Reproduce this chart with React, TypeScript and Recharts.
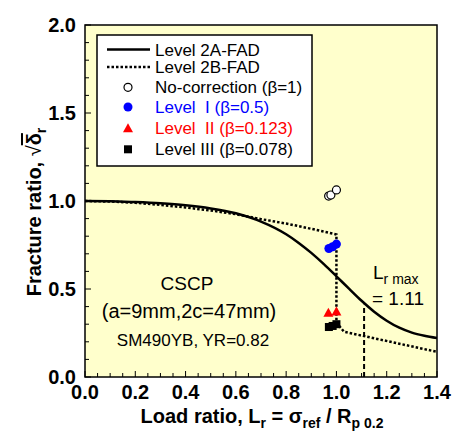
import React from 'react';
import {
  ComposedChart,
  Line,
  Scatter,
  XAxis,
  YAxis,
  CartesianGrid,
} from 'recharts';

// ============================================
// DATA
// ============================================

// Level 2A-FAD (solid curve)
const FAD_2A = [
  { x: 0.0, y: 1.0 },
  { x: 0.1, y: 0.999 },
  { x: 0.2, y: 0.994 },
  { x: 0.3, y: 0.987 },
  { x: 0.4, y: 0.976 },
  { x: 0.5, y: 0.958 },
  { x: 0.6, y: 0.93 },
  { x: 0.7, y: 0.883 },
  { x: 0.8, y: 0.811 },
  { x: 0.85, y: 0.762 },
  { x: 0.9, y: 0.705 },
  { x: 0.95, y: 0.641 },
  { x: 1.0, y: 0.572 },
  { x: 1.05, y: 0.502 },
  { x: 1.1, y: 0.433 },
  { x: 1.15, y: 0.371 },
  { x: 1.2, y: 0.32 },
  { x: 1.25, y: 0.28 },
  { x: 1.3, y: 0.252 },
  { x: 1.35, y: 0.234 },
  { x: 1.4, y: 0.221 },
];

// Level 2B-FAD (dotted curve)
const FAD_2B = [
  { x: 0.0, y: 1.0 },
  { x: 0.1, y: 0.997 },
  { x: 0.2, y: 0.99 },
  { x: 0.3, y: 0.978 },
  { x: 0.4, y: 0.963 },
  { x: 0.5, y: 0.946 },
  { x: 0.6, y: 0.925 },
  { x: 0.7, y: 0.897 },
  { x: 0.8, y: 0.872 },
  { x: 0.9, y: 0.842 },
  { x: 1.0, y: 0.81 },
  { x: 1.0, y: 0.31 },
  { x: 1.03, y: 0.257 },
  { x: 1.4, y: 0.143 },
];

// Lr max cut-off
const LR_MAX = [
  { x: 1.11, y: 0 },
  { x: 1.11, y: 0.41 },
];

const NO_CORRECTION = [
  { x: 0.969, y: 1.028 },
  { x: 0.978, y: 1.034 },
  { x: 1.0, y: 1.063 },
];
const LEVEL_1 = [
  { x: 0.97, y: 0.73 },
  { x: 0.985, y: 0.74 },
  { x: 1.0, y: 0.755 },
];
const LEVEL_2 = [
  { x: 0.968, y: 0.365 },
  { x: 1.0, y: 0.372 },
];
const LEVEL_3 = [
  { x: 0.97, y: 0.284 },
  { x: 0.985, y: 0.29 },
  { x: 1.0, y: 0.3 },
];

const X_MAJOR = [0, 0.2, 0.4, 0.6, 0.8, 1.0, 1.2, 1.4];
const X_TICKS = [
  0, 0.05, 0.1, 0.15, 0.2, 0.25, 0.3, 0.35, 0.4, 0.45, 0.5, 0.55, 0.6, 0.65,
  0.7, 0.75, 0.8, 0.85, 0.9, 0.95, 1.0, 1.05, 1.1, 1.15, 1.2, 1.25, 1.3, 1.35,
  1.4,
];
const Y_MAJOR = [0, 0.5, 1.0, 1.5, 2.0];
const Y_TICKS = [
  0, 0.1, 0.2, 0.3, 0.4, 0.5, 0.6, 0.7, 0.8, 0.9, 1.0, 1.1, 1.2, 1.3, 1.4, 1.5,
  1.6, 1.7, 1.8, 1.9, 2.0,
];

// ============================================
// CONSTANTS
// ============================================

const FONT = '"Liberation Sans", Arial, Helvetica, sans-serif';
const BG = '#FFFFCC';
const W = 454;
const H = 437;
const M = { top: 25, right: 17, left: 0, bottom: 0 };
const Y_AXIS_W = 85;
const X_AXIS_H = 60;
const DOTS = '2.5 2';

const isMajor = (list: number[], v: number) => list.some((m) => Math.abs(m - v) < 1e-6);

// ============================================
// HELPERS
// ============================================

function XTick({ x, y, payload }: any) {
  const v = payload.value as number;
  const major = isMajor(X_MAJOR, v);
  return (
    <g>
      <line x1={x} x2={x} y1={y} y2={y - (major ? 6 : 4)} stroke="#000" strokeWidth={1} />
      {major && (
        <text x={x} y={y + 22} textAnchor="middle" fontSize={20} fontWeight="bold" fontFamily={FONT} fill="#000">
          {v.toFixed(1)}
        </text>
      )}
    </g>
  );
}

function YTick({ x, y, payload }: any) {
  const v = payload.value as number;
  const major = isMajor(Y_MAJOR, v);
  return (
    <g>
      <line x1={x} x2={x + (major ? 6 : 4)} y1={y} y2={y} stroke="#000" strokeWidth={1} />
      {major && (
        <text x={x - 9} y={y + 7} textAnchor="end" fontSize={20} fontWeight="bold" fontFamily={FONT} fill="#000">
          {v.toFixed(1)}
        </text>
      )}
    </g>
  );
}

const OpenCircle = (p: any) => <circle cx={p.cx} cy={p.cy} r={4} fill="#fff" stroke="#000" strokeWidth={1.2} />;
const BlueDot = (p: any) => <circle cx={p.cx} cy={p.cy} r={4.5} fill="#0000FF" />;
const RedTri = (p: any) => (
  <polygon points={`${p.cx},${p.cy - 5} ${p.cx - 5},${p.cy + 4} ${p.cx + 5},${p.cy + 4}`} fill="#FF0000" />
);
const BlackSq = (p: any) => <rect x={p.cx - 4} y={p.cy - 4} width={8} height={8} fill="#000" />;

function LegendBox() {
  const tx = 155;
  const mx = 128;
  const rows = [49.5, 67, 87.3, 107, 128.3, 149.3];
  const t = (i: number, label: string, color = '#000') => (
    <text x={tx} y={rows[i] + 6} fontSize={17} fontFamily={FONT} fill={color} style={{ whiteSpace: 'pre' }}>
      {label}
    </text>
  );
  return (
    <g>
      <rect x={97} y={35} width={215} height={131} fill="#fff" stroke="#000" strokeWidth={1.5} />
      <line x1={107} x2={150} y1={rows[0]} y2={rows[0]} stroke="#000" strokeWidth={2.5} />
      {t(0, 'Level 2A-FAD')}
      <line x1={107} x2={150} y1={rows[1]} y2={rows[1]} stroke="#000" strokeWidth={2.5} strokeDasharray={DOTS} />
      {t(1, 'Level 2B-FAD')}
      <OpenCircle cx={mx} cy={rows[2]} />
      {t(2, 'No-correction (β=1)')}
      <BlueDot cx={mx} cy={rows[3]} />
      {t(3, 'Level  I (β=0.5)', '#0000FF')}
      <RedTri cx={mx} cy={rows[4]} />
      {t(4, 'Level  II (β=0.123)', '#FF0000')}
      <BlackSq cx={mx} cy={rows[5]} />
      {t(5, 'Level III (β=0.078)')}
    </g>
  );
}

// ============================================
// COMPONENT
// ============================================

export default function App() {
  const plotL = M.left + Y_AXIS_W;
  const plotT = M.top;
  const plotR = W - M.right;
  const plotB = H - M.bottom - X_AXIS_H;

  return (
    <div style={{ position: 'absolute', left: 0, top: 0, width: W, height: H, background: '#fff' }}>
      <ComposedChart width={W} height={H} margin={M}>
        <CartesianGrid fill={BG} horizontal={false} vertical={false} />
        <XAxis
          dataKey="x"
          type="number"
          domain={[0, 1.4]}
          ticks={X_TICKS}
          interval={0}
          height={X_AXIS_H}
          tickSize={0}
          tickMargin={0}
          tickLine={false}
          axisLine={false}
          tick={<XTick />}
          allowDataOverflow
        />
        <YAxis
          dataKey="y"
          type="number"
          domain={[0, 2]}
          ticks={Y_TICKS}
          interval={0}
          width={Y_AXIS_W}
          tickSize={0}
          tickMargin={0}
          tickLine={false}
          axisLine={false}
          tick={<YTick />}
          allowDataOverflow
        />
        <Line data={FAD_2A} dataKey="y" type="monotone" stroke="#000" strokeWidth={2.5} dot={false} isAnimationActive={false} />
        <Line data={FAD_2B} dataKey="y" type="linear" stroke="#000" strokeWidth={2.5} strokeDasharray={DOTS} dot={false} isAnimationActive={false} />
        <Line data={LR_MAX} dataKey="y" type="linear" stroke="#000" strokeWidth={2} strokeDasharray="5 3" dot={false} isAnimationActive={false} />
        <Scatter data={NO_CORRECTION} shape={OpenCircle} isAnimationActive={false} />
        <Scatter data={LEVEL_1} shape={BlueDot} isAnimationActive={false} />
        <Scatter data={LEVEL_2} shape={RedTri} isAnimationActive={false} />
        <Scatter data={LEVEL_3} shape={BlackSq} isAnimationActive={false} />
      </ComposedChart>

      {/* Frame, legend and annotations */}
      <svg width={W} height={H} style={{ position: 'absolute', left: 0, top: 0, pointerEvents: 'none' }}>
        <rect x={plotL} y={plotT} width={plotR - plotL} height={plotB - plotT} fill="none" stroke="#000" strokeWidth={1.5} />
        <LegendBox />

        <text x={187} y={290} textAnchor="middle" fontSize={19} fontFamily={FONT} fill="#000">CSCP</text>
        <text x={189} y={318} textAnchor="middle" fontSize={20} fontFamily={FONT} fill="#000">(a=9mm,2c=47mm)</text>
        <text x={193} y={346} textAnchor="middle" fontSize={17} fontFamily={FONT} fill="#000">SM490YB, YR=0.82</text>

        <text x={373} y={279} fontSize={19} fontFamily={FONT} fill="#000">
          L<tspan dy={5} fontSize={14}>r max</tspan>
        </text>
        <text x={372} y={305} fontSize={19} fontFamily={FONT} fill="#000">= 1.11</text>

        <text x={262} y={423} textAnchor="middle" fontSize={20} fontWeight="bold" fontFamily={FONT} fill="#000">
          Load ratio, L<tspan dy={5} fontSize={14}>r</tspan>
          <tspan dy={-5}> = σ</tspan>
          <tspan dy={5} fontSize={14}>ref</tspan>
          <tspan dy={-5}> / R</tspan>
          <tspan dy={5} fontSize={14}>p 0.2</tspan>
        </text>

        <text transform="translate(41,212) rotate(-90)" textAnchor="middle" fontSize={20} fontWeight="bold" fontFamily={FONT} fill="#000">
          Fracture ratio, <tspan fontWeight="normal">√</tspan>
          <tspan style={{ textDecoration: 'overline' }}>δ</tspan>
          <tspan dy={5} fontSize={14}>r</tspan>
        </text>
      </svg>
    </div>
  );
}
